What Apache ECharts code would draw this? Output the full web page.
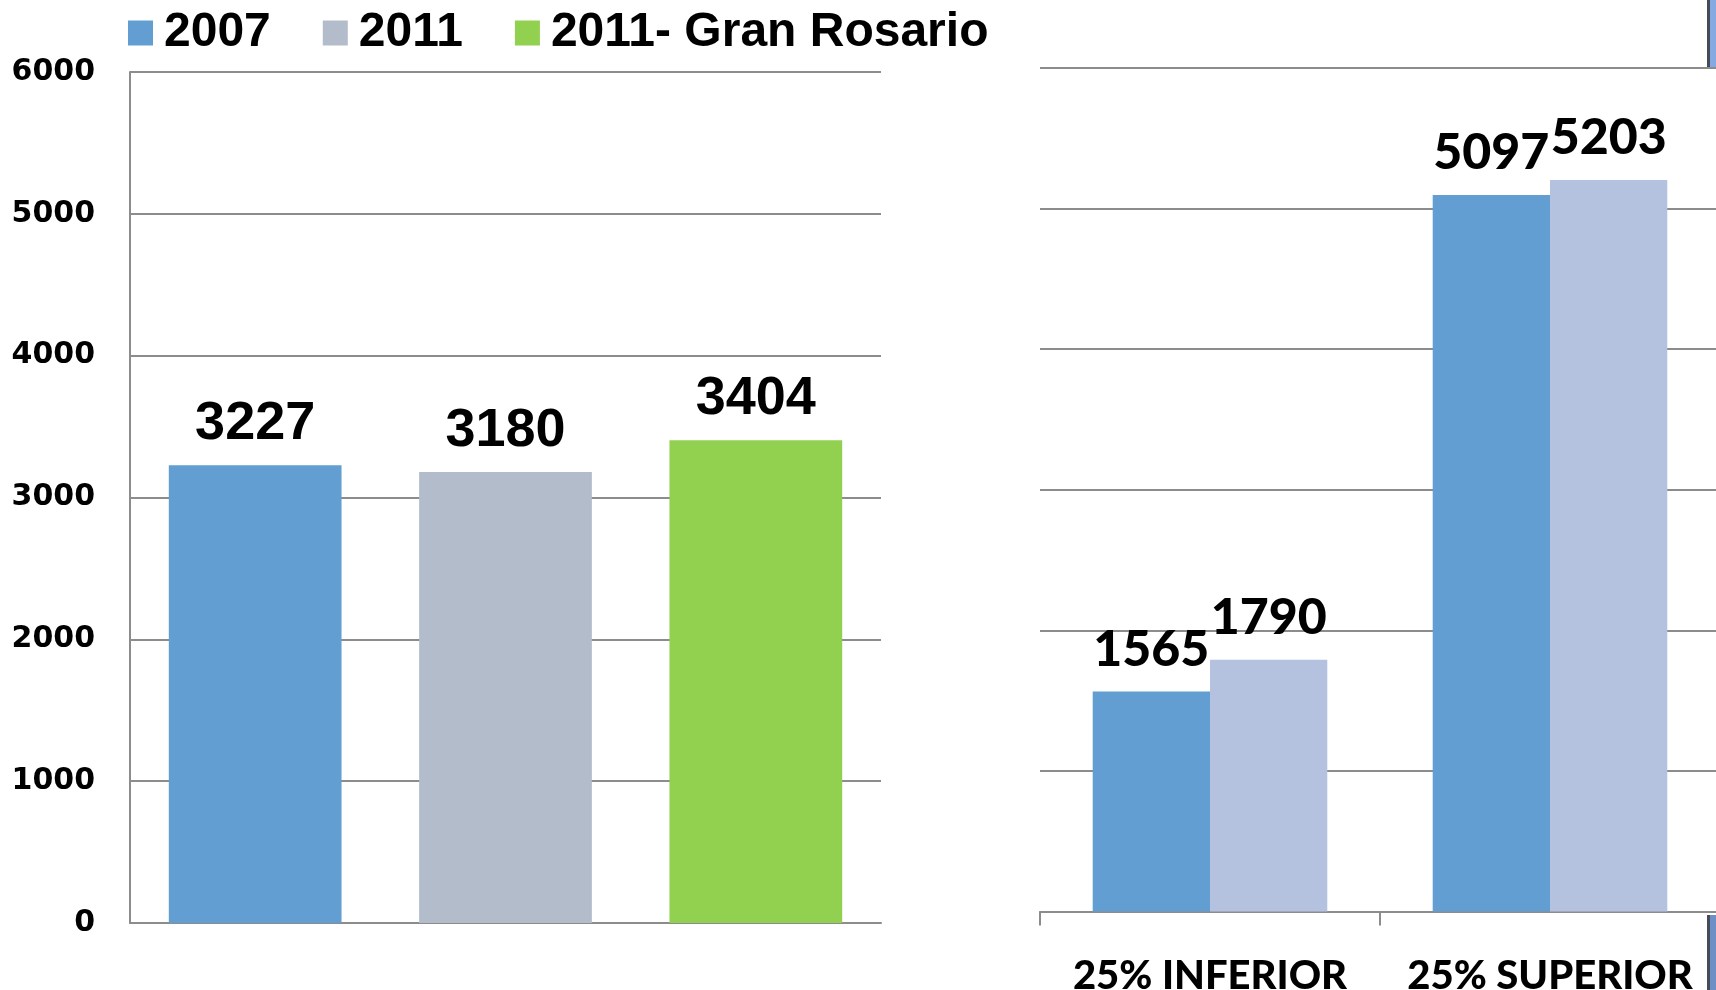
<!DOCTYPE html>
<html>
<head>
<meta charset="utf-8">
<script src="https://cdn.jsdelivr.net/npm/echarts@6/dist/echarts.min.js"></script>
<style>
html,body{margin:0;padding:0;background:#fff;}
#c{width:1716px;height:990px;}
</style>
</head>
<body>
<div id="c"></div>
<script>
// ---- data ----
const leftCategories = ['2007', '2011', '2011- Gran Rosario'];
const leftValues = [3227, 3180, 3404];
const rightCategories = ['25% INFERIOR', '25% SUPERIOR'];
const right2007 = [1565, 5097];
const right2011 = [1790, 5203];
const yMin = 0, yMax = 6000, yStep = 1000;

// ---- styles ----
const leftColors = ['#629ed1', '#b2bccb', '#92d050'];
const right2011Color = '#b5c2df';
const gridColor = '#8c8c8c';

const chart = echarts.init(document.getElementById('c'));

const leftSeries = leftCategories.map((name, i) => ({
  name: name,
  type: 'bar',
  xAxisIndex: 0,
  yAxisIndex: 0,
  stack: 'left',
  barCategoryGap: '31%',
  itemStyle: { color: leftColors[i] },
  label: {
    show: true, position: 'top', distance: 14,
    fontFamily: 'Liberation Sans', fontWeight: 'bold', fontSize: 54, color: '#000'
  },
  data: leftCategories.map((c, j) => (j === i ? leftValues[i] : null))
}));

const rightLabel = {
  show: true, position: 'top', distance: 17,
  fontFamily: 'Lato', fontWeight: 900, fontSize: 50, color: '#000'
};

const option = {
  backgroundColor: '#fff',
  animation: false,
  legend: {
    data: leftCategories,
    left: 123,
    top: 4,
    itemWidth: 25,
    itemHeight: 25,
    itemGap: 52,
    icon: 'rect',
    textStyle: {
      fontFamily: 'Liberation Sans', fontWeight: 'bold', fontSize: 48, color: '#000',
      padding: [0, 0, 0, 6]
    }
  },
  grid: [
    { left: 130, right: 835, top: 72, bottom: 67, outerBoundsMode: 'none', containLabel: false },
    { left: 1040, right: -4, top: 68, bottom: 78.5, outerBoundsMode: 'none', containLabel: false }
  ],
  xAxis: [
    {
      type: 'category', gridIndex: 0, data: leftCategories,
      axisLabel: { show: false }, axisTick: { show: false },
      axisLine: { lineStyle: { color: gridColor, width: 2 } }
    },
    {
      type: 'category', gridIndex: 1, data: rightCategories,
      axisTick: { show: true, length: 14, lineStyle: { color: gridColor, width: 2 } },
      axisLine: { lineStyle: { color: gridColor, width: 2 } },
      axisLabel: {
        interval: 0, hideOverlap: false,
        margin: 45, fontFamily: 'Lato', fontWeight: 900, fontSize: 40, color: '#000'
      }
    }
  ],
  yAxis: [
    {
      type: 'value', gridIndex: 0, min: yMin, max: yMax, interval: yStep,
      axisLine: { show: true, lineStyle: { color: gridColor, width: 2 } },
      axisTick: { show: false },
      axisLabel: {
        margin: 35, fontFamily: 'DejaVu Sans', fontWeight: 'bold', fontSize: 30, color: '#000',
        formatter: (v) => String(v)
      },
      splitLine: { lineStyle: { color: gridColor, width: 2 } }
    },
    {
      type: 'value', gridIndex: 1, min: yMin, max: yMax, interval: yStep,
      axisLine: { show: false }, axisTick: { show: false },
      axisLabel: { show: false },
      splitLine: { lineStyle: { color: gridColor, width: 2 } }
    }
  ],
  series: leftSeries.concat([
    {
      name: '2007', type: 'bar', xAxisIndex: 1, yAxisIndex: 1,
      barGap: '0%', barCategoryGap: '31%',
      itemStyle: { color: leftColors[0] },
      label: rightLabel,
      data: right2007
    },
    {
      name: '2011', type: 'bar', xAxisIndex: 1, yAxisIndex: 1,
      barGap: '0%', barCategoryGap: '31%',
      itemStyle: { color: right2011Color },
      label: rightLabel,
      data: right2011
    }
  ]),
  graphic: [
    { type: 'rect', shape: { x: 1710, y: 0, width: 6, height: 67 }, style: { fill: '#86a9e2' } },
    { type: 'rect', shape: { x: 1707, y: 0, width: 3, height: 67 }, style: { fill: '#454c58' } },
    { type: 'rect', shape: { x: 1710, y: 915, width: 6, height: 75 }, style: { fill: '#6e8ec6' } },
    { type: 'rect', shape: { x: 1707, y: 915, width: 3, height: 75 }, style: { fill: '#454c58' } }
  ]
};

chart.setOption(option);
</script>
</body>
</html>
